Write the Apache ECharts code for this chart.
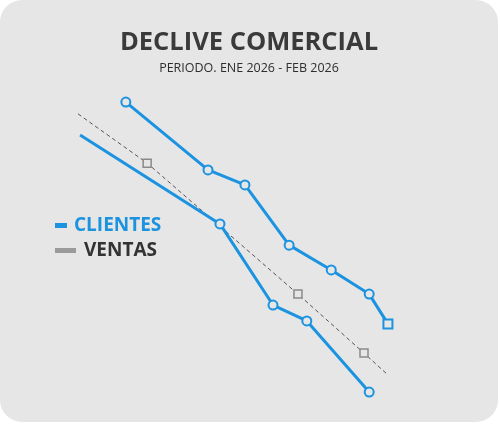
<!DOCTYPE html>
<html><head><meta charset="utf-8">
<script src="https://cdn.jsdelivr.net/npm/echarts@6/dist/echarts.min.js"></script>
<style>
html,body{margin:0;padding:0;background:#ffffff;}
#c{width:498px;height:422px;background:#e6e6e6;border-radius:22px;overflow:hidden;}
</style></head>
<body><div id="c"></div>
<script>
// x = day of period (0..60), y = index value (0..100)
const clientesA = [[9.2,99.3],[25,76.3],[32.1,71.2],[40.6,50.8],[48.7,42.4],[56,34.2],[59.6,24.1]];
const clientesB = [[0.4,88.1],[27.3,58],[37.5,30.5],[44,25.1],[56,1]];
const ventas = [[0,95.3],[13.3,78.6],[42.3,34.2],[55,14.2],[59.6,6.8]];
const titleText = 'DECLIVE COMERCIAL';
const subText = 'PERIODO. ENE 2026 - FEB 2026';
const blue = '#1b93e0';
const gray = '#8a8a8a';
const bg = '#e6e6e6';

function mk(arr, firstNone, lastRect, lastNone){
  return arr.map((p,i)=>{
    const o = {value:p};
    if(i===0 && firstNone) o.symbol='none';
    if(i===arr.length-1 && lastRect) o.symbol='rect';
    if(i===arr.length-1 && lastNone) o.symbol='none';
    return o;
  });
}

const chart = echarts.init(document.getElementById('c'), null, {renderer:'canvas'});
chart.setOption({
  backgroundColor:'transparent',
  animation:false,
  title:[{text:titleText,left:'center',top:25,textStyle:{fontFamily:'Open Sans',fontWeight:'bold',fontSize:25.5,color:'#3a3a3a'}},
         {text:subText,left:'center',top:57,textStyle:{fontFamily:'Open Sans',fontWeight:'normal',fontSize:12.5,color:'#2e2e2e'}}],
  legend:[
    {left:50,top:211,itemWidth:12,itemHeight:5,icon:'rect',selectedMode:false,
     itemStyle:{color:blue,borderWidth:0},
     data:[{name:'CLIENTES',textStyle:{color:blue}}],
     textStyle:{fontFamily:'Open Sans',fontWeight:'bold',fontSize:19,padding:[0,0,0,2]}},
    {left:50,top:236,itemWidth:21,itemHeight:5,icon:'rect',selectedMode:false,
     itemStyle:{color:'#9a9a9a',borderWidth:0},
     data:[{name:'VENTAS',textStyle:{color:'#333333'}}],
     textStyle:{fontFamily:'Open Sans',fontWeight:'bold',fontSize:19,padding:[0,0,0,3]}}
  ],
  grid:{left:78,right:108,top:100,bottom:27},
  xAxis:{type:'value',min:0,max:60,show:false},
  yAxis:{type:'value',min:0,max:100,show:false},
  series:[
    {name:'VENTAS',type:'line',data:mk(ventas,true,false,true),symbol:'rect',symbolSize:8,
     lineStyle:{color:'#555555',width:1,type:[4,3]},
     itemStyle:{color:bg,borderColor:gray,borderWidth:1.5},z:1},
    {name:'CLIENTES',type:'line',data:mk(clientesA,false,true,false),symbol:'circle',symbolSize:9,
     lineStyle:{color:blue,width:3},itemStyle:{color:bg,borderColor:blue,borderWidth:2},z:2},
    {name:'CLIENTES',type:'line',data:mk(clientesB,true,false,false),symbol:'circle',symbolSize:9,
     lineStyle:{color:blue,width:3},itemStyle:{color:bg,borderColor:blue,borderWidth:2},z:2}
  ]
});
</script></body></html>
